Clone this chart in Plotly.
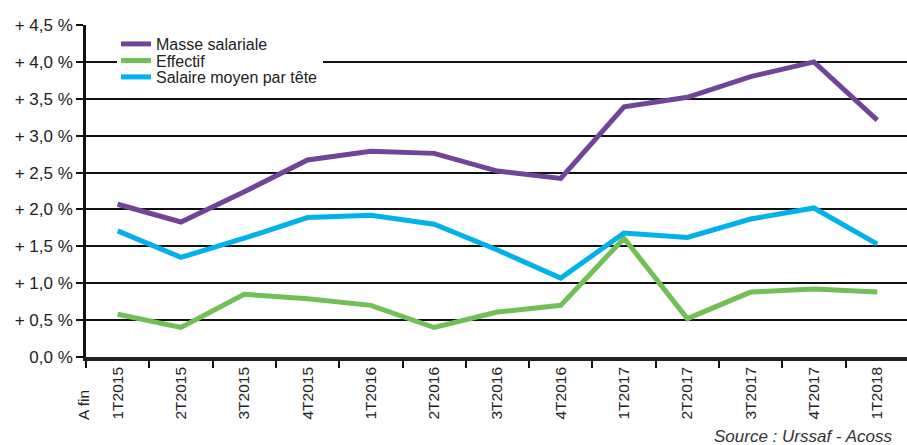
import plotly.graph_objects as go

categories = ["1T2015", "2T2015", "3T2015", "4T2015", "1T2016", "2T2016", "3T2016",
              "4T2016", "1T2017", "2T2017", "3T2017", "4T2017", "1T2018"]
masse_salariale = [2.07, 1.83, 2.24, 2.67, 2.79, 2.76, 2.52, 2.42, 3.39, 3.52, 3.80, 4.00, 3.21]
effectif = [0.58, 0.40, 0.85, 0.79, 0.70, 0.40, 0.61, 0.70, 1.61, 0.52, 0.88, 0.92, 0.88]
salaire_moyen = [1.71, 1.35, 1.61, 1.89, 1.92, 1.80, 1.45, 1.07, 1.68, 1.62, 1.87, 2.02, 1.53]
series_names = ["Masse salariale", "Effectif", "Salaire moyen par tête"]
y_tickvals = [0, 0.5, 1.0, 1.5, 2.0, 2.5, 3.0, 3.5, 4.0, 4.5]
y_ticktext = ["0,0 %", "+ 0,5 %", "+ 1,0 %", "+ 1,5 %", "+ 2,0 %", "+ 2,5 %",
              "+ 3,0 %", "+ 3,5 %", "+ 4,0 %", "+ 4,5 %"]
source_text = "Source : Urssaf - Acoss"
axis_prefix = "A fin"

colors = ["#6f4499", "#71bf57", "#00b1ec"]
FONT = "Liberation Sans, Arial, sans-serif"

W, H = 907, 445
ML, MR, MT, MB = 86, 0, 25, 88
PW = W - ML - MR
PH = H - MT - MB

def px_x(x):
    return (x - ML) / PW

def px_y(y):
    return (H - MB - y) / PH

fig = go.Figure()
legends = ["legend", "legend2", "legend3"]
for name, vals, col, lg in zip(series_names, [masse_salariale, effectif, salaire_moyen], colors, legends):
    fig.add_trace(go.Scatter(
        x=categories, y=vals, mode="lines", name=name, showlegend=True,
        line=dict(color=col, width=5), legend=lg, hoverinfo="skip"))

legend_y_px = [44, 60.5, 77]
leg_common = dict(x=px_x(116), xanchor="left", yanchor="middle", visible=True,
                  bgcolor="rgba(0,0,0,0)", borderwidth=0,
                  font=dict(family=FONT, size=16, color="#222222"))

fig.update_layout(
    width=W, height=H, showlegend=True,
    margin=dict(l=ML, r=MR, t=MT, b=MB, autoexpand=False),
    paper_bgcolor="white", plot_bgcolor="white",
    font=dict(family=FONT, size=17, color="#222222"),
    legend=dict(y=px_y(legend_y_px[0]), **leg_common),
    legend2=dict(y=px_y(legend_y_px[1]), **leg_common),
    legend3=dict(y=px_y(legend_y_px[2]), **leg_common),
    xaxis=dict(
        type="category", range=[-0.5, 12.47],
        tickson="boundaries", ticks="outside", ticklen=7, tickwidth=2, tickcolor="#111111",
        tickangle=-90, tickfont=dict(family=FONT, size=15.5, color="#222222"),
        showline=True, linecolor="#222222", linewidth=3.5,
        showgrid=False, zeroline=False,
    ),
    yaxis=dict(
        range=[0, 4.5], tickvals=y_tickvals, ticktext=y_ticktext,
        ticks="outside", ticklen=7, tickwidth=2, tickcolor="#111111",
        tickfont=dict(family=FONT, size=17, color="#222222"),
        showline=True, linecolor="#111111", linewidth=2.5,
        showgrid=True, gridcolor="#111111", gridwidth=2.2,
        zeroline=False,
    ),
    shapes=[dict(type="rect", xref="paper", yref="paper",
                 x0=px_x(117), x1=px_x(323), y0=px_y(66), y1=px_y(55),
                 fillcolor="white", line=dict(width=0), layer="above")],
    annotations=[
        dict(text=axis_prefix, xref="paper", yref="paper", x=px_x(83), y=px_y(421),
             xanchor="center", yanchor="bottom", textangle=-90, showarrow=False,
             borderpad=0,
             font=dict(family=FONT, size=15.5, color="#222222")),
        dict(text="<i>" + source_text + "</i>", xref="paper", yref="paper",
             x=px_x(713), y=px_y(436), xanchor="left", yanchor="middle", showarrow=False,
             borderpad=0,
             font=dict(family=FONT, size=17, color="#333333")),
    ],
)

fig.write_html("out.html", config={"displayModeBar": False},
               post_script="document.body.style.margin='0';document.body.style.padding='0';")
